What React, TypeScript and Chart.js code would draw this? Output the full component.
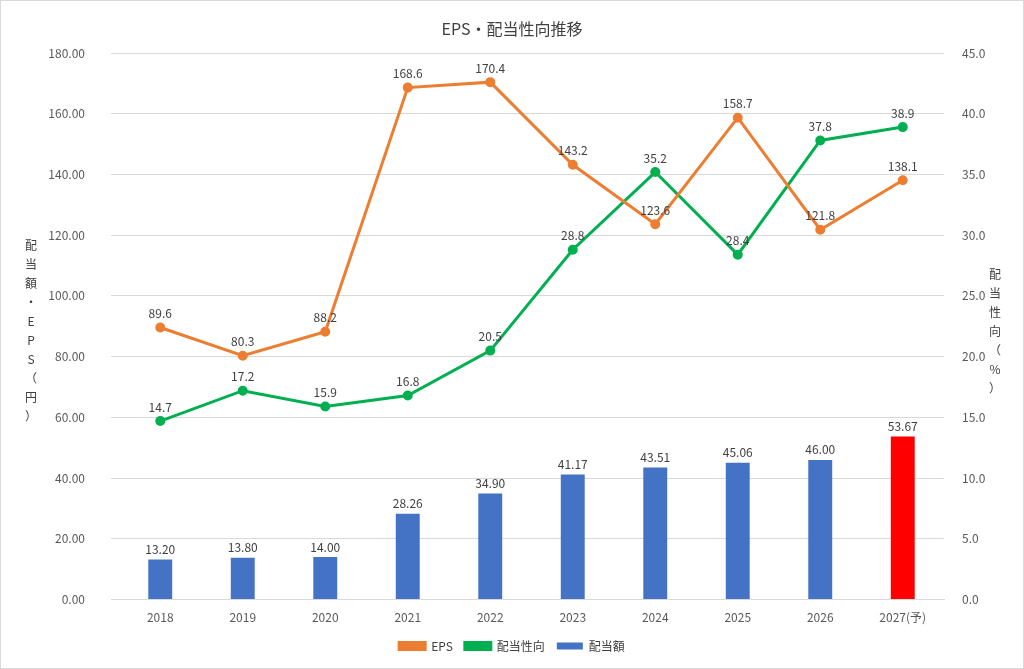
import React, { useEffect, useRef } from "react";
import { Chart, registerables } from "chart.js";
Chart.register(...registerables);

const categories = ["2018","2019","2020","2021","2022","2023","2024","2025","2026","2027(予)"];
const dividend = [13.2,13.8,14.0,28.26,34.9,41.17,43.51,45.06,46.0,53.67];
const eps = [89.6,80.3,88.2,168.6,170.4,143.2,123.6,158.7,121.8,138.1];
const payout = [14.7,17.2,15.9,16.8,20.5,28.8,35.2,28.4,37.8,38.9];
const barColors = ["#4472C4","#4472C4","#4472C4","#4472C4","#4472C4","#4472C4","#4472C4","#4472C4","#4472C4","#FF0000"];
const FONT = "'Noto Sans CJK JP', 'Noto Sans', sans-serif";

const labelPlugin = {
  id: "labels",
  afterDatasetsDraw(chart: any) {
    const ctx = chart.ctx;
    ctx.save();
    ctx.font = `12px ${FONT}`;
    ctx.fillStyle = "#404040";
    ctx.textAlign = "center";
    ctx.textBaseline = "bottom";
    chart.data.datasets.forEach((ds: any, i: number) => {
      const meta = chart.getDatasetMeta(i);
      meta.data.forEach((el: any, j: number) => {
        const v = ds.data[j];
        const txt = i === 0 ? v.toFixed(2) : v.toFixed(1);
        ctx.fillText(txt, el.x, el.y - (i === 0 ? 4 : 8));
      });
    });
    // title
    ctx.font = `16px ${FONT}`;
    ctx.fillStyle = "#404040";
    ctx.textBaseline = "middle";
    ctx.fillText("EPS・配当性向推移", chart.width / 2, 28);
    // axis titles
    ctx.font = `12px ${FONT}`;
    const drawV = (s: string, x: number, cy: number) => {
      const step = 19;
      const start = cy - ((s.length - 1) * step) / 2;
      [...s].forEach((c, k) => ctx.fillText(c, x, start + k * step));
    };
    drawV("配当額・EPS（円）", 30, 330);
    drawV("配当性向（%）", 994, 330);
    ctx.restore();
  },
};

export default function App() {
  const ref = useRef<HTMLCanvasElement>(null);
  useEffect(() => {
    const chart = new Chart(ref.current!, {
      type: "bar",
      data: {
        labels: categories,
        datasets: [
          { type: "bar", label: "配当額", data: dividend, backgroundColor: barColors, yAxisID: "y", barPercentage: 0.29, categoryPercentage: 1, order: 3 },
          { type: "line", label: "EPS", data: eps, borderColor: "#ED7D31", backgroundColor: "#ED7D31", borderWidth: 3, pointRadius: 3.5, yAxisID: "y", order: 1 },
          { type: "line", label: "配当性向", data: payout, borderColor: "#00B050", backgroundColor: "#00B050", borderWidth: 3, pointRadius: 3.5, yAxisID: "y1", order: 2 },
        ] as any,
      },
      options: {
        animation: false,
        responsive: false,
        layout: { padding: { top: 52, bottom: 6 } },
        plugins: {
          legend: {
            position: "bottom",
            labels: { font: { family: FONT, size: 12 }, color: "#404040", boxWidth: 26, boxHeight: 7, padding: 12 },
          },
          tooltip: { enabled: false },
        },
        scales: {
          x: {
            grid: { display: false },
            border: { color: "#D9D9D9" },
            ticks: { font: { family: FONT, size: 12 }, color: "#595959" },
          },
          y: {
            min: 0, max: 180,
            ticks: { stepSize: 20, callback: (v: any) => Number(v).toFixed(2), font: { family: FONT, size: 12 }, color: "#595959", padding: 26 },
            grid: { color: "#D9D9D9" },
            border: { display: false },
            afterFit: (s: any) => { s.width = 118; },
          },
          y1: {
            position: "right",
            min: 0, max: 45,
            ticks: { stepSize: 5, callback: (v: any) => Number(v).toFixed(1), font: { family: FONT, size: 12 }, color: "#595959", padding: 10 },
            grid: { display: false },
            border: { display: false },
            afterFit: (s: any) => { s.width = 79; },
          },
        },
      },
      plugins: [labelPlugin],
    });
    return () => chart.destroy();
  }, []);
  return (
    <div style={{ position: "fixed", left: 0, top: 0, width: 1024, height: 669, background: "#fff", boxSizing: "border-box", border: "1px solid #D9D9D9" }}>
      <canvas ref={ref} width={1022} height={667} />
    </div>
  );
}
